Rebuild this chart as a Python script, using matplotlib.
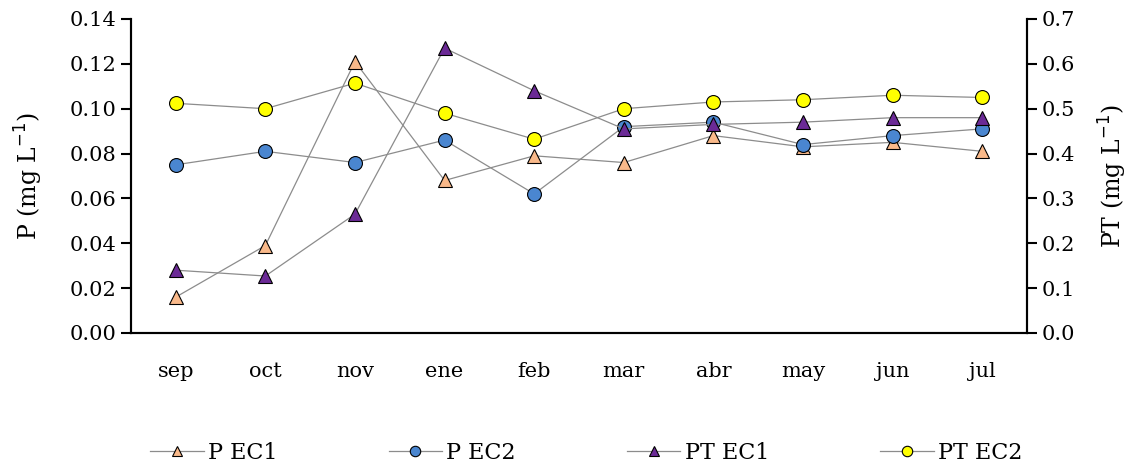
import matplotlib.pyplot as plt

plt.rcParams['font.family'] = ['DejaVu Serif']

months = ['sep', 'oct', 'nov', 'ene', 'feb', 'mar', 'abr', 'may', 'jun', 'jul']

# left axis (P, mg/L)
p_ec1 = [0.016, 0.039, 0.121, 0.068, 0.079, 0.076, 0.088, 0.083, 0.085, 0.081]
p_ec2 = [0.075, 0.081, 0.076, 0.086, 0.062, 0.092, 0.094, 0.084, 0.088, 0.091]
# right axis (PT, mg/L)
pt_ec1 = [0.140, 0.127, 0.265, 0.635, 0.540, 0.455, 0.465, 0.470, 0.480, 0.480]
pt_ec2 = [0.512, 0.500, 0.557, 0.490, 0.432, 0.500, 0.515, 0.520, 0.530, 0.525]

left_ticks = [0.00, 0.02, 0.04, 0.06, 0.08, 0.10, 0.12, 0.14]
right_ticks = [0.0, 0.1, 0.2, 0.3, 0.4, 0.5, 0.6, 0.7]

fig = plt.figure(figsize=(11.43, 4.70), dpi=100)
ax = fig.add_axes([0.1146, 0.2915, 0.7839, 0.6681])
ax2 = ax.twinx()

x = range(len(months))
line_kw = dict(color='#8c8c8c', lw=0.9, markeredgecolor='black', markeredgewidth=0.8, markersize=10)

h1, = ax.plot(x, p_ec1, marker='^', markerfacecolor='#f9b98a', label='P EC1', **line_kw)
h2, = ax.plot(x, p_ec2, marker='o', markerfacecolor='#4a86d0', label='P EC2', **line_kw)
h3, = ax2.plot(x, pt_ec1, marker='^', markerfacecolor='#6b2a96', label='PT EC1', **line_kw)
h4, = ax2.plot(x, pt_ec2, marker='o', markerfacecolor='#ffff00', label='PT EC2', **line_kw)

ax.set_xlim(-0.5, len(months) - 0.5)
ax.set_ylim(0, 0.14)
ax2.set_ylim(0, 0.7)
ax.set_xticks(list(x))
ax.set_xticklabels(months, fontsize=15)
ax.tick_params(axis='x', length=0, pad=21)
ax.set_yticks(left_ticks)
ax.set_yticklabels([f'{t:.2f}' for t in left_ticks], fontsize=15)
ax2.set_yticks(right_ticks)
ax2.set_yticklabels([f'{t:.1f}' for t in right_ticks], fontsize=15)
ax.tick_params(axis='y', direction='out', length=7, width=1.5)
ax2.tick_params(axis='y', direction='out', length=7, width=1.5)

ax.set_ylabel('P (mg L$^{-1}$)', fontsize=17, labelpad=18)
ax2.set_ylabel('PT (mg L$^{-1}$)', fontsize=17, labelpad=16)

for a in (ax, ax2):
    a.spines['top'].set_visible(False)
    for s in ('left', 'right', 'bottom'):
        a.spines[s].set_linewidth(1.5)

fig.legend(handles=[h1, h2, h3, h4], loc='center', bbox_to_anchor=(0.513, 0.036),
           ncol=4, frameon=False, fontsize=16, columnspacing=5.0,
           handlelength=2.4, handletextpad=0.2, markerscale=0.75)

fig.savefig('out.png', dpi=100)
